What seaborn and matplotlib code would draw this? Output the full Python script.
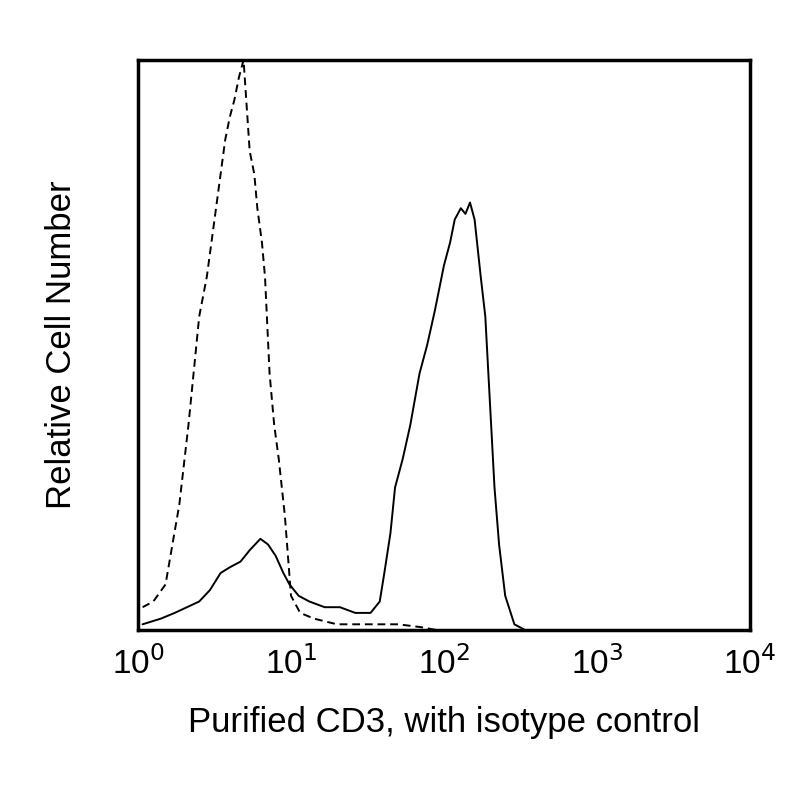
import matplotlib
matplotlib.use("Agg")
import matplotlib.pyplot as plt
import seaborn as sns
import numpy as np
import pandas as pd

# log10 fluorescence positions and relative counts
iso_log = [0.03, 0.10, 0.18, 0.27, 0.33, 0.40, 0.45, 0.50, 0.54, 0.57, 0.60, 0.63, 0.66, 0.69, 0.71, 0.73, 0.76, 0.78, 0.81, 0.83, 0.86, 0.89, 0.92, 0.96, 1.00, 1.06, 1.15, 1.30, 1.50, 1.70, 1.85, 1.95]
iso_cnt = [0.04, 0.05, 0.08, 0.22, 0.36, 0.55, 0.62, 0.72, 0.80, 0.86, 0.90, 0.93, 0.97, 1.00, 0.92, 0.84, 0.80, 0.74, 0.68, 0.62, 0.45, 0.36, 0.30, 0.20, 0.06, 0.03, 0.02, 0.01, 0.01, 0.01, 0.005, 0.0]
cd3_log = [0.03, 0.15, 0.24, 0.32, 0.40, 0.47, 0.54, 0.60, 0.67, 0.73, 0.80, 0.85, 0.90, 0.95, 0.99, 1.05, 1.12, 1.22, 1.32, 1.42, 1.52, 1.58, 1.61, 1.65, 1.68, 1.73, 1.78, 1.84, 1.89, 1.94, 2.00, 2.04, 2.07, 2.11, 2.14, 2.17, 2.20, 2.24, 2.27, 2.29, 2.31, 2.33, 2.36, 2.40, 2.46, 2.53]
cd3_cnt = [0.01, 0.02, 0.03, 0.04, 0.05, 0.07, 0.10, 0.11, 0.12, 0.14, 0.16, 0.15, 0.13, 0.10, 0.08, 0.06, 0.05, 0.04, 0.04, 0.03, 0.03, 0.05, 0.10, 0.17, 0.25, 0.30, 0.36, 0.45, 0.50, 0.56, 0.64, 0.68, 0.72, 0.74, 0.73, 0.75, 0.72, 0.62, 0.55, 0.45, 0.35, 0.25, 0.15, 0.06, 0.01, 0.0]

sns.set_style("white")
plt.rcParams['font.family'] = ['Liberation Sans', 'DejaVu Sans']
fig = plt.figure(figsize=(8, 8), dpi=100)
ax = fig.add_axes([0.1725, 0.2125, 0.765, 0.7125])

iso = pd.DataFrame({"x": 10 ** np.array(iso_log), "y": iso_cnt})
cd3 = pd.DataFrame({"x": 10 ** np.array(cd3_log), "y": cd3_cnt})
sns.lineplot(data=iso, x="x", y="y", ax=ax, color="black", lw=1.4, linestyle=(0, (4, 2.5)))
sns.lineplot(data=cd3, x="x", y="y", ax=ax, color="black", lw=1.4)

ax.set_xscale("log")
ax.set_xlim(1, 1e4)
ax.set_ylim(0, 1.0)
ax.set_yticks([])
ax.set_xticks([1, 10, 100, 1000, 10000])
ax.set_xticklabels([r"10$^{0}$", r"10$^{1}$", r"10$^{2}$", r"10$^{3}$", r"10$^{4}$"])
ax.minorticks_off()
ax.tick_params(axis="x", labelsize=24, length=0, pad=12, labelcolor="black")
for s in ax.spines.values():
    s.set_linewidth(2.5)
    s.set_color("black")
ax.set_xlabel("Purified CD3, with isotype control", fontsize=25, labelpad=18, color="black")
ax.set_ylabel("Relative Cell Number", fontsize=25, labelpad=43, color="black")
fig.savefig("out.png", dpi=100)
